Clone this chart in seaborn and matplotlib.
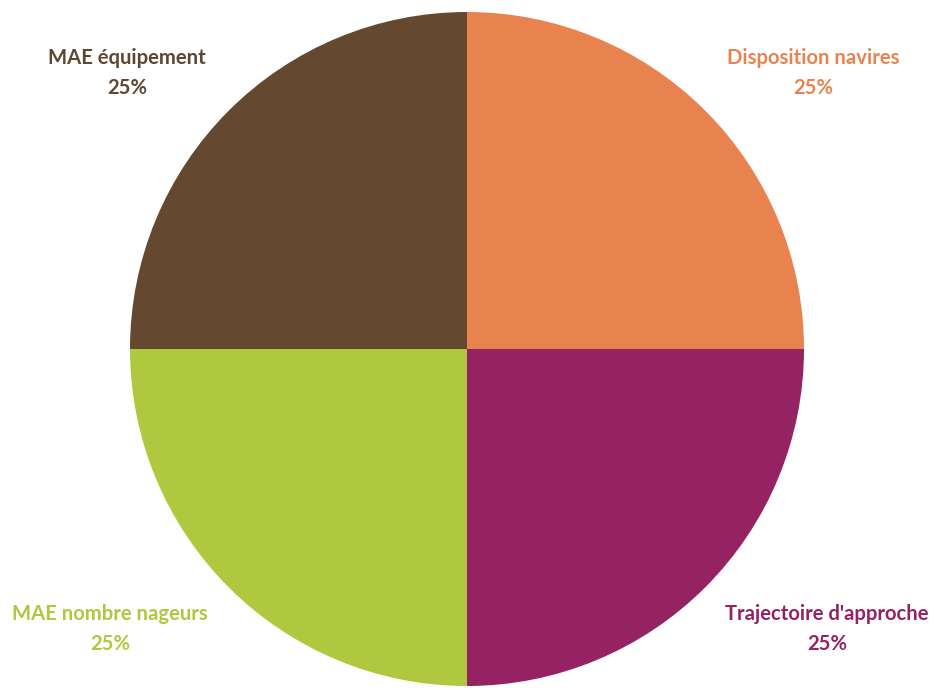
import matplotlib
matplotlib.use("Agg")
import matplotlib.pyplot as plt
import seaborn as sns

# Share of each category
categories = ["Disposition navires", "Trajectoire d'approche", "MAE nombre nageurs", "MAE équipement"]
shares = [25, 25, 25, 25]
colors = ["#E8834F", "#952263", "#AFC83F", "#654830"]
text_colors = ["#E8834F", "#952263", "#AFC83F", "#5E4632"]
# label anchor points (figure pixels, from top-left)
label_pos = [(813, 73), (827, 629), (110, 629), (127, 73)]

sns.set_theme(style="white")
plt.rcParams["font.family"] = ["Lato", "DejaVu Sans"]

W, H = 934, 690
fig = plt.figure(figsize=(W / 100, H / 100), dpi=100)
fig.patch.set_facecolor("white")

cx, cy, r = 467, 349, 337
ax = fig.add_axes([(cx - r) / W, (H - cy - r) / H, 2 * r / W, 2 * r / H])
ax.pie(shares, colors=colors, startangle=90, counterclock=False, radius=1,
       wedgeprops=dict(linewidth=0))
ax.set_xlim(-1, 1)
ax.set_ylim(-1, 1)
ax.set_aspect("equal")
ax.axis("off")

for name, val, col, (px, py) in zip(categories, shares, text_colors, label_pos):
    fig.text(px / W, 1 - py / H, f"{name}\n{val}%", ha="center", va="center",
             color=col, fontsize=14.6, fontweight="bold", linespacing=1.6)

fig.savefig("out.png", dpi=100, facecolor="white")
